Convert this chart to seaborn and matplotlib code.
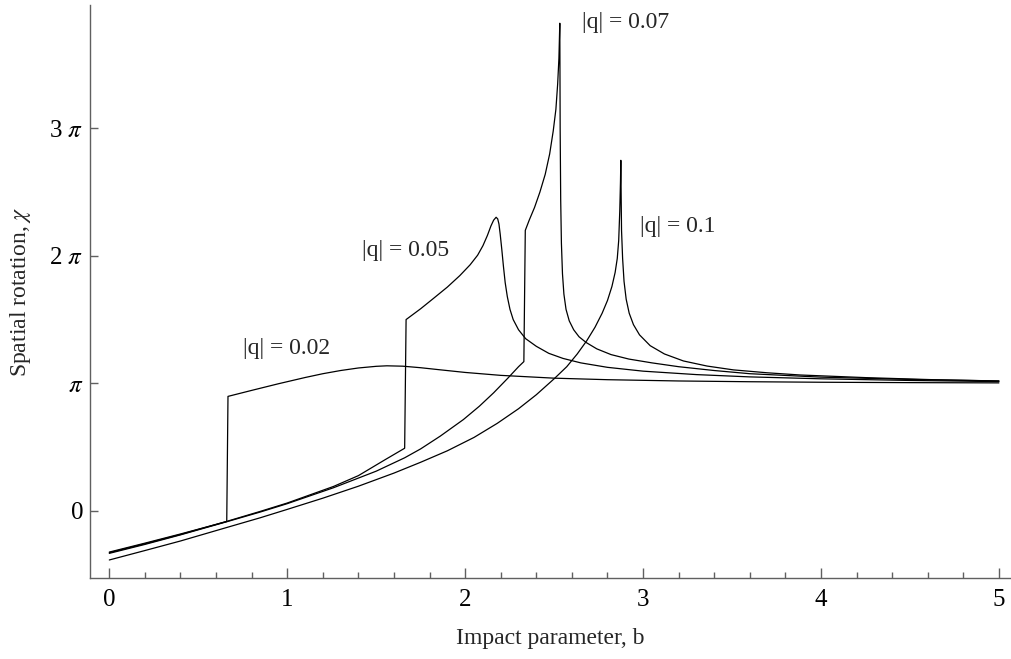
import numpy as np
import pandas as pd
import matplotlib
matplotlib.use("Agg")
import matplotlib.pyplot as plt
import seaborn as sns
from matplotlib.ticker import MultipleLocator, FixedLocator

# impact parameter b, rotation chi in units of pi
b_002 = [0.0, 0.2, 0.4, 0.6, 0.660, 0.667, 0.8, 0.95, 1.1, 1.2, 1.3, 1.4,
         1.5, 1.56, 1.65, 1.75, 1.85, 2.0, 2.2, 2.5, 2.8, 3.2, 3.6, 4.0,
         4.5, 5.0]
chi_002 = [-0.325, -0.255, -0.183, -0.108, -0.085, 0.897, 0.944, 0.996,
           1.045, 1.075, 1.100, 1.12, 1.133, 1.137, 1.134, 1.122, 1.107,
           1.085, 1.062, 1.04, 1.028, 1.018, 1.012, 1.008, 1.005, 1.003]

b_005 = [0.0, 0.2, 0.4, 0.665, 0.85, 1.0, 1.26, 1.4, 1.55, 1.660, 1.668,
         1.75, 1.821, 1.9, 1.97, 2.028, 2.07, 2.10, 2.125, 2.145, 2.16,
         2.174, 2.183, 2.19, 2.197, 2.206, 2.215, 2.225, 2.237, 2.252, 2.27,
         2.3, 2.34, 2.4, 2.47, 2.55, 2.65, 2.8, 3.0, 3.3, 3.6, 4.0, 4.5, 5.0]
chi_005 = [-0.33, -0.26, -0.187, -0.082, -0.005, 0.06, 0.19, 0.275, 0.40,
           0.49, 1.50, 1.585, 1.665, 1.755, 1.845, 1.93, 2.005, 2.08, 2.16,
           2.235, 2.28, 2.303, 2.29, 2.25, 2.17, 2.05, 1.92, 1.79, 1.68, 1.58,
           1.50, 1.42, 1.35, 1.29, 1.235, 1.195, 1.16, 1.125, 1.095, 1.068,
           1.05, 1.035, 1.022, 1.013]

b_007 = [0.0, 0.2, 0.4, 0.665, 0.85, 1.0, 1.26, 1.5, 1.66, 1.75, 1.86, 1.99,
         2.08, 2.16, 2.24, 2.30, 2.33, 2.338, 2.36, 2.39, 2.42, 2.45, 2.475,
         2.495, 2.51, 2.52, 2.527, 2.532, 2.534, 2.537, 2.541, 2.547, 2.555,
         2.567, 2.585, 2.61, 2.64, 2.68, 2.74, 2.82, 2.92, 3.05, 3.2, 3.4,
         3.6, 4.0, 4.5, 5.0]
chi_007 = [-0.335, -0.265, -0.19, -0.085, -0.01, 0.055, 0.18, 0.31, 0.415,
           0.485, 0.585, 0.715, 0.82, 0.925, 1.04, 1.13, 1.17, 2.20, 2.28,
           2.38, 2.50, 2.64, 2.80, 2.98, 3.15, 3.35, 3.55, 3.826, 3.0, 2.44,
           2.1, 1.86, 1.70, 1.58, 1.49, 1.42, 1.365, 1.32, 1.27, 1.225, 1.19,
           1.16, 1.13, 1.10, 1.075, 1.048, 1.03, 1.018]

b_010 = [0.0, 0.2, 0.4, 0.665, 0.85, 1.0, 1.2, 1.4, 1.6, 1.75, 1.9, 2.05,
         2.18, 2.3, 2.4, 2.5, 2.571, 2.63, 2.684, 2.73, 2.77, 2.8, 2.825,
         2.843, 2.855, 2.863, 2.869, 2.873, 2.875, 2.877, 2.879, 2.885,
         2.893, 2.905, 2.922, 2.946, 2.98, 3.04, 3.12, 3.227, 3.36, 3.508,
         3.7, 3.883, 4.257, 4.632, 5.0]
chi_010 = [-0.387, -0.313, -0.238, -0.13, -0.055, 0.01, 0.098, 0.192, 0.295,
           0.38, 0.47, 0.575, 0.685, 0.80, 0.91, 1.035, 1.13, 1.23, 1.335,
           1.44, 1.55, 1.65, 1.76, 1.87, 1.98, 2.12, 2.35, 2.58, 2.75, 2.45,
           2.2, 1.98, 1.8, 1.66, 1.55, 1.46, 1.38, 1.295, 1.23, 1.175, 1.135,
           1.105, 1.082, 1.065, 1.044, 1.028, 1.018]

q_labels = ["|q| = 0.02", "|q| = 0.05", "|q| = 0.07", "|q| = 0.1"]

frames = []
for lab, bb, cc in zip(q_labels, [b_002, b_005, b_007, b_010],
                       [chi_002, chi_005, chi_007, chi_010]):
    frames.append(pd.DataFrame({"b": bb, "chi": np.array(cc) * np.pi, "q": lab}))
df = pd.concat(frames, ignore_index=True)

sns.set_style("ticks")
plt.rcParams["font.family"] = ["Liberation Serif", "DejaVu Serif"]
plt.rcParams["mathtext.fontset"] = "stix"

fig = plt.figure(figsize=(10.11, 6.59), dpi=100)
ax = fig.add_axes([0.0893, 0.1234, 0.9107, 0.8690])

sns.lineplot(data=df, x="b", y="chi", units="q", estimator=None, sort=False,
             color="black", linewidth=0.9, legend=False, ax=ax)

ax.set_xlim(-0.107, 5.068)
ax.set_ylim(-0.526 * np.pi, 3.969 * np.pi)

ax.xaxis.set_major_locator(FixedLocator([0, 1, 2, 3, 4, 5]))
ax.xaxis.set_minor_locator(MultipleLocator(0.2))
ax.set_xticklabels(["0", "1", "2", "3", "4", "5"])
ax.set_yticks([0, np.pi, 2 * np.pi, 3 * np.pi])
ax.set_yticklabels(["0", r"$\pi$", r"2 $\pi$", r"3 $\pi$"])

spine_col = "#606060"
for side in ["top", "right"]:
    ax.spines[side].set_visible(False)
for side in ["left", "bottom"]:
    ax.spines[side].set_color(spine_col)
    ax.spines[side].set_linewidth(1.0)

ax.tick_params(axis="both", which="both", direction="in", color=spine_col,
               width=1.0, labelsize=18, labelcolor="black",
               bottom=True, left=True, top=False, right=False)
ax.tick_params(axis="x", which="major", length=7, pad=8)
ax.tick_params(axis="x", which="minor", length=4)
ax.tick_params(axis="y", which="major", length=6, pad=5)
ax.tick_params(axis="y", which="minor", length=0)

ax.set_xlabel("Impact parameter, b", fontsize=17)
ax.set_ylabel(r"Spatial rotation, $\chi$", fontsize=17)
ax.xaxis.set_label_coords(0.5, -0.088)
ax.yaxis.set_label_coords(-0.062, 0.5)

# curve labels
label_pos = [(0.752, 1.27), (1.419, 2.04), (2.655, 3.83), (2.983, 2.23)]
for lab, (lx, ly) in zip(q_labels, label_pos):
    ax.text(lx, ly * np.pi, lab, fontsize=17, ha="left", va="center")

fig.savefig("out.png", dpi=100)
